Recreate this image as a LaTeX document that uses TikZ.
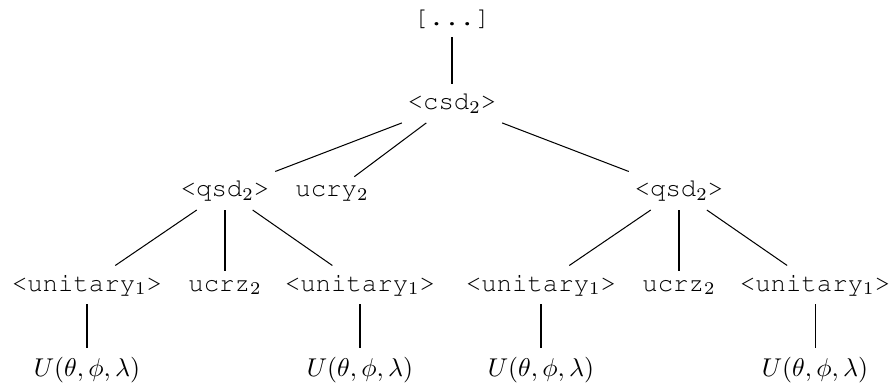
\documentclass[tikz,border=0pt]{standalone}
\usepackage[T1]{fontenc}
\usepackage{courier}
\begin{document}
\begin{tikzpicture}[x=0.3891pt,y=-0.3891pt,
  lbl/.style={anchor=base, font=\ttfamily},
  mlbl/.style={anchor=base},
  edge/.style={draw=black, line width=0.4pt}]
\useasboundingbox (0,0) rectangle (895,390);
% level 0 and 1
\node[lbl] (root) at (452,25.5) {[...]};
\node[lbl] (csd) at (452,110) {<csd$_2$>};
% level 2
\node[lbl] (qsdL) at (225,197) {<qsd$_2$>};
\node[lbl] (ucry) at (332,197) {ucry$_2$};
\node[lbl] (qsdR) at (679,197) {<qsd$_2$>};
% level 3
\node[lbl] (uniLa) at (87,291) {<unitary$_1$>};
\node[lbl] (ucrzL) at (225,291) {ucrz$_2$};
\node[lbl] (uniLb) at (360,291) {<unitary$_1$>};
\node[lbl] (uniRa) at (541,291) {<unitary$_1$>};
\node[lbl] (ucrzR) at (679,291) {ucrz$_2$};
\node[lbl] (uniRb) at (815,291) {<unitary$_1$>};
% level 4
\node[mlbl] (uLa) at (87,376.5) {$U(\theta,\phi,\lambda)$};
\node[mlbl] (uLb) at (360,376.5) {$U(\theta,\phi,\lambda)$};
\node[mlbl] (uRa) at (541,376.5) {$U(\theta,\phi,\lambda)$};
\node[mlbl] (uRb) at (815,376.5) {$U(\theta,\phi,\lambda)$};
% edges
\draw[edge] (root) -- (csd);
\draw[edge] (csd) -- (qsdL);
\draw[edge] (csd) -- (ucry);
\draw[edge] (csd) -- (qsdR);
\draw[edge] (qsdL) -- (uniLa);
\draw[edge] (qsdL) -- (ucrzL);
\draw[edge] (qsdL) -- (uniLb);
\draw[edge] (qsdR) -- (uniRa);
\draw[edge] (qsdR) -- (ucrzR);
\draw[edge] (qsdR) -- (uniRb);
\draw[edge] (uniLa) -- (uLa);
\draw[edge] (uniLb) -- (uLb);
\draw[edge] (uniRa) -- (uRa);
\draw[edge] (uniRb) -- (uRb);
\end{tikzpicture}
\end{document}
